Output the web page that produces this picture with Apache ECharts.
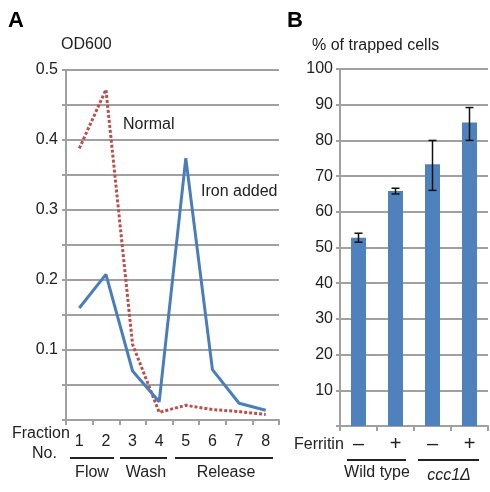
<!DOCTYPE html>
<html><head><meta charset="utf-8">
<script src="https://cdn.jsdelivr.net/npm/echarts@6/dist/echarts.min.js"></script>
<style>html,body{margin:0;padding:0;background:#fff}#c{width:490px;height:492px}</style>
</head><body><div id="c"></div>
<script>
// Panel A data
const fractions = ['1','2','3','4','5','6','7','8'];
const ironAdded = [0.16, 0.208, 0.07, 0.026, 0.374, 0.072, 0.024, 0.014];
const normal = [0.388, 0.472, 0.108, 0.011, 0.021, 0.015, 0.012, 0.008];
const odTicks = [0.1, 0.2, 0.3, 0.4, 0.5];
// Panel B data
const ferritin = ['\u2013', '+', '\u2013', '+'];
const trapped = [52.7, 65.8, 73.3, 85.0];
const errLow = [51.5, 65.0, 66.0, 80.0];
const errHigh = [54.0, 66.6, 80.0, 89.2];
const pctTicks = [10,20,30,40,50,60,70,80,90,100];

const FONT = 'Liberation Sans, Arial, sans-serif';
const GRID = '#a0a0a0';
const TXT = '#222';
const chart = echarts.init(document.getElementById('c'));

function txt(x, y, s, size, opts) {
  return {type:'text', x, y, style:Object.assign({text:s, font: size+'px '+FONT, fill:TXT, textAlign:'left', textVerticalAlign:'middle'}, opts||{})};
}
function hline(x1, x2, y) {
  return {type:'line', shape:{x1, y1:y, x2, y2:y}, style:{stroke:'#222', lineWidth:2}};
}

chart.setOption({
  animation:false,
  grid:[
    {left:66, top:70, width:213, height:350},
    {left:340, top:69, width:148, height:357}
  ],
  xAxis:[
    {type:'category', gridIndex:0, data:fractions, boundaryGap:true,
     axisLine:{lineStyle:{color:GRID, width:2}}, axisTick:{show:true, length:5, lineStyle:{color:GRID, width:2}},
     axisLabel:{color:TXT, fontSize:16, fontFamily:FONT, margin:14}},
    {type:'category', gridIndex:1, data:ferritin, boundaryGap:true,
     axisLine:{lineStyle:{color:GRID, width:2}}, axisTick:{show:true, length:5, lineStyle:{color:GRID, width:2}},
     axisLabel:{color:TXT, fontSize:20, fontFamily:FONT, margin:8}}
  ],
  yAxis:[
    {type:'value', gridIndex:0, min:0, max:0.5, interval:0.05,
     axisLine:{show:true, lineStyle:{color:GRID, width:2}}, axisTick:{show:true, length:4, lineStyle:{color:GRID, width:2}},
     splitLine:{lineStyle:{color:GRID, width:2}},
     axisLabel:{color:TXT, fontSize:16, fontFamily:FONT, margin:8,
       formatter:v => { const r = Math.round(v*100)/100; return odTicks.some(t=>Math.abs(t-r)<1e-6) ? r.toFixed(1) : ''; }}},
    {type:'value', gridIndex:1, min:0, max:100, interval:10,
     axisLine:{show:true, lineStyle:{color:GRID, width:2}}, axisTick:{show:true, length:4, lineStyle:{color:GRID, width:2}},
     splitLine:{lineStyle:{color:GRID, width:2}},
     axisLabel:{color:TXT, fontSize:16, fontFamily:FONT, margin:7,
       formatter:v => pctTicks.includes(v) ? String(v) : ''}}
  ],
  series:[
    {type:'line', xAxisIndex:0, yAxisIndex:0, data:normal, symbol:'none',
     lineStyle:{color:'#B9504E', width:3, type:[3,2]}},
    {type:'line', xAxisIndex:0, yAxisIndex:0, data:ironAdded, symbol:'none',
     lineStyle:{color:'#4A7EBB', width:3}},
    {type:'bar', xAxisIndex:1, yAxisIndex:1, data:trapped, barWidth:15,
     itemStyle:{color:'#4F81BD'}},
    {type:'custom', xAxisIndex:1, yAxisIndex:1,
     data: trapped.map((v,i)=>[i, errLow[i], errHigh[i]]),
     renderItem:(params, api) => {
       const lo = api.coord([api.value(0), api.value(1)]);
       const hi = api.coord([api.value(0), api.value(2)]);
       const x = lo[0], w = 4;
       const st = {stroke:'#111', lineWidth:1.5};
       return {type:'group', children:[
         {type:'line', shape:{x1:x, y1:lo[1], x2:x, y2:hi[1]}, style:st},
         {type:'line', shape:{x1:x-w, y1:lo[1], x2:x+w, y2:lo[1]}, style:st},
         {type:'line', shape:{x1:x-w, y1:hi[1], x2:x+w, y2:hi[1]}, style:st}
       ]};
     }, z:5}
  ],
  graphic:[
    txt(8, 21, 'A', 22, {font:'bold 22px '+FONT, fill:'#000'}),
    txt(287, 21, 'B', 22, {font:'bold 22px '+FONT, fill:'#000'}),
    txt(61, 45, 'OD600', 16),
    txt(312, 46, '% of trapped cells', 16),
    txt(123, 125, 'Normal', 16),
    txt(201, 192, 'Iron added', 16),
    txt(12, 434, 'Fraction', 16),
    txt(32, 454, 'No.', 16),
    hline(70, 114, 458), hline(120, 167, 458), hline(175, 273, 458),
    txt(92, 473, 'Flow', 16, {textAlign:'center'}),
    txt(146, 473, 'Wash', 16, {textAlign:'center'}),
    txt(226, 473, 'Release', 16, {textAlign:'center'}),
    txt(294, 445, 'Ferritin', 16),
    hline(347, 406, 460), hline(418, 479, 460),
    txt(377, 473, 'Wild type', 16, {textAlign:'center'}),
    txt(449, 476, 'ccc1\u0394', 16, {textAlign:'center', font:'italic 16px '+FONT})
  ]
});
</script></body></html>
